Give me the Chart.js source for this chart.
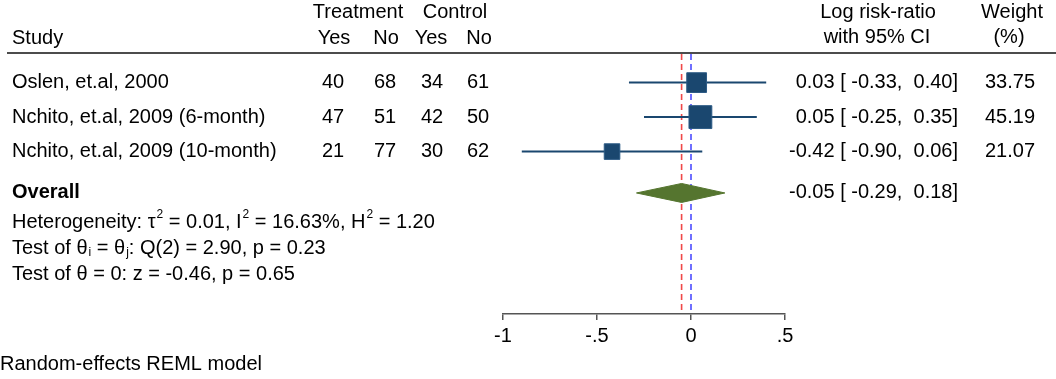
<!DOCTYPE html>
<html>
<head>
<meta charset="utf-8">
<script src="https://cdn.jsdelivr.net/npm/chart.js@4"></script>
<style>
  html, body { margin: 0; padding: 0; background: #fff; }
  #wrap { width: 1056px; height: 379px; }
</style>
</head>
<body>
<div id="wrap"><canvas id="forest" width="1056" height="379"></canvas></div>
<script>
const studies = ['Oslen, et.al, 2000', 'Nchito, et.al, 2009 (6-month)', 'Nchito, et.al, 2009 (10-month)'];
const treatYes = [40, 47, 21];
const treatNo = [68, 51, 77];
const ctrlYes = [34, 42, 30];
const ctrlNo = [61, 50, 62];
const logRR = [0.03, 0.05, -0.42];
const ciLow = [-0.33, -0.25, -0.90];
const ciHigh = [0.40, 0.35, 0.06];
const weights = [33.75, 45.19, 21.07];
const overallEst = -0.05;
const overallLow = -0.29;
const overallHigh = 0.18;
const xTicks = [-1, -0.5, 0, 0.5];

// heterogeneity / test lines, [text, 'sup'|'sub'|''] pieces
const statLines = [
    [['Heterogeneity: τ', ''], ['2', 'sup'], [' = 0.01, I', ''], ['2', 'sup'], [' = 16.63%, H', ''], ['2', 'sup'], [' = 1.20', '']],
    [['Test of θ', ''], ['i', 'sub'], [' = θ', ''], ['j', 'sub'], [': Q(2) = 2.90, p = 0.23', '']],
    [['Test of θ = 0: z = -0.46, p = 0.65', '']]
];
const note = 'Random-effects REML model';

// row positions on the (reversed) y scale
const studyRows = [1, 2, 3];
const overallRow = 4.2;
const statRows = [5.05, 5.8, 6.55];

const FONT = '"Liberation Sans", Arial, sans-serif';
const navy = '#1a476f';
const green = '#55752f';

Chart.defaults.font.family = FONT;
Chart.defaults.font.size = 20;
Chart.defaults.color = '#000';

const fmt = v => v.toFixed(2);
const pad = v => v.toFixed(2).padStart(6);
const ciText = (e, lo, hi) => fmt(e) + ' [' + pad(lo) + ',' + pad(hi) + ']';

const datasets = [];

// reference lines
datasets.push({
    data: [{x: 0, y: 0.17}, {x: 0, y: 7.71}],
    showLine: true, borderColor: '#4d4dff', borderWidth: 1.6, borderDash: [6, 4],
    pointRadius: 0, order: 10
});
datasets.push({
    data: [{x: overallEst, y: 0.17}, {x: overallEst, y: 7.71}],
    showLine: true, borderColor: '#f04848', borderWidth: 1.6, borderDash: [6, 4],
    pointRadius: 0, order: 10
});

// confidence intervals
studies.forEach((s, i) => {
    datasets.push({
        data: [{x: ciLow[i], y: studyRows[i]}, {x: ciHigh[i], y: studyRows[i]}],
        showLine: true, borderColor: navy, borderWidth: 2, pointRadius: 0, order: 5
    });
});

// point estimates, square area ~ weight
datasets.push({
    data: logRR.map((v, i) => ({x: v, y: studyRows[i]})),
    pointStyle: 'rect',
    pointRadius: weights.map(w => 3.4 * Math.sqrt(w) / Math.SQRT2),
    backgroundColor: navy, borderColor: '#2d5b86', borderWidth: 1, order: 1
});

// overall diamond
const dh = 0.275;
datasets.push({
    data: [{x: overallLow, y: overallRow}, {x: overallEst, y: overallRow - dh}, {x: overallHigh, y: overallRow}],
    showLine: true, borderColor: green, borderWidth: 1, backgroundColor: green,
    pointRadius: 0, tension: 0, order: 3
});
datasets.push({
    data: [{x: overallLow, y: overallRow}, {x: overallEst, y: overallRow + dh}, {x: overallHigh, y: overallRow}],
    showLine: true, borderColor: green, borderWidth: 1, backgroundColor: green,
    fill: '-1', pointRadius: 0, tension: 0, order: 2
});

function drawRich(ctx, parts, x, y) {
    let cx = x;
    for (const [txt, mode] of parts) {
        if (mode === 'sup') {
            ctx.font = '12px ' + FONT;
            ctx.fillText(txt, cx + 1, y - 8);
            cx += ctx.measureText(txt).width + 1;
        } else if (mode === 'sub') {
            ctx.font = '12px ' + FONT;
            ctx.fillText(txt, cx + 1, y + 5);
            cx += ctx.measureText(txt).width + 1;
        } else {
            ctx.font = '20px ' + FONT;
            ctx.fillText(txt, cx, y);
            cx += ctx.measureText(txt).width;
        }
    }
}

const tablePlugin = {
    id: 'tableText',
    afterDraw(chart) {
        const ctx = chart.ctx;
        const ys = chart.scales.y;
        ctx.save();
        ctx.fillStyle = '#000';
        ctx.textBaseline = 'middle';
        ctx.font = '20px ' + FONT;

        // header
        ctx.textAlign = 'center';
        ctx.fillText('Treatment', 358, 12);
        ctx.fillText('Control', 455, 12);
        ctx.fillText('Yes', 334, 38);
        ctx.fillText('No', 386, 38);
        ctx.fillText('Yes', 431, 38);
        ctx.fillText('No', 479, 38);
        ctx.fillText('Log risk-ratio', 878, 12);
        ctx.fillText('with 95% CI', 877, 37);
        ctx.fillText('Weight', 1012, 12);
        ctx.fillText('(%)', 1009, 37);
        ctx.textAlign = 'left';
        ctx.fillText('Study', 12, 38);

        ctx.strokeStyle = '#111';
        ctx.lineWidth = 1.6;
        ctx.beginPath();
        ctx.moveTo(7, 53);
        ctx.lineTo(1056, 53);
        ctx.stroke();

        // study rows
        studies.forEach((s, i) => {
            const py = ys.getPixelForValue(studyRows[i]);
            ctx.textAlign = 'left';
            ctx.fillText(s, 12, py);
            ctx.textAlign = 'center';
            ctx.fillText(String(treatYes[i]), 333, py);
            ctx.fillText(String(treatNo[i]), 385, py);
            ctx.fillText(String(ctrlYes[i]), 432, py);
            ctx.fillText(String(ctrlNo[i]), 478, py);
            ctx.textAlign = 'right';
            ctx.fillText(ciText(logRR[i], ciLow[i], ciHigh[i]), 958, py);
            ctx.fillText(fmt(weights[i]), 1035, py);
        });

        // overall row
        const oy = ys.getPixelForValue(overallRow);
        ctx.textAlign = 'right';
        ctx.fillText(ciText(overallEst, overallLow, overallHigh), 958, oy);
        ctx.textAlign = 'left';
        ctx.font = 'bold 20px ' + FONT;
        ctx.fillText('Overall', 12, oy);

        statLines.forEach((parts, i) => {
            drawRich(ctx, parts, 12, ys.getPixelForValue(statRows[i]));
        });

        ctx.font = '20px ' + FONT;
        ctx.fillText(note, 0, chart.height - 15);
        ctx.restore();
    }
};

new Chart(document.getElementById('forest'), {
    type: 'scatter',
    data: {datasets: datasets},
    options: {
        responsive: false,
        maintainAspectRatio: false,
        animation: false,
        layout: {padding: {left: 503, right: 271, top: 54, bottom: 27}},
        scales: {
            x: {
                type: 'linear',
                min: -1,
                max: 0.5,
                afterBuildTicks: s => { s.ticks = xTicks.map(v => ({value: v})); },
                ticks: {
                    padding: 4,
                    color: '#000',
                    font: {size: 20},
                    callback: v => v === 0 ? '0' : String(v).replace('0.', '.')
                },
                grid: {drawOnChartArea: false, tickLength: 6, color: '#555', lineWidth: 1.5},
                border: {display: true, color: '#555', width: 1.5}
            },
            y: {
                type: 'linear',
                display: false,
                reverse: true,
                min: 0.17,
                max: 7.71
            }
        },
        plugins: {
            legend: {display: false},
            tooltip: {enabled: false}
        }
    },
    plugins: [tablePlugin]
});
</script>
</body>
</html>
